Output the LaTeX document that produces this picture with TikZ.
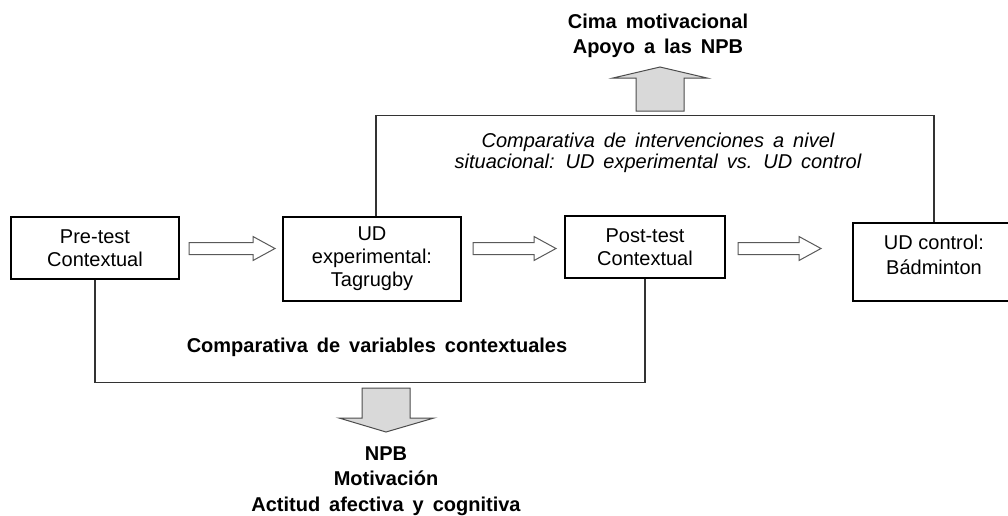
\documentclass[tikz,border=0pt]{standalone}
\usepackage{fontspec}
\setmainfont{Liberation Sans}
\usetikzlibrary{calc}

\newcommand\widewords{\spaceskip=0.45em\relax}

\tikzset{
  box/.style={draw=black, line width=.8pt, fill=white, align=center, inner sep=0pt, font=\fontsize{15}{17.25}\selectfont},
  boxtext/.style={align=center, inner sep=0pt, font=\fontsize{15}{18.75}\selectfont},
  link/.style={draw=black!80, line width=1pt},
  hollow/.style={draw=black!65, line width=.75pt, fill=white},
  block/.style={draw=black!70, line width=.75pt, fill=black!15},
  bold/.style={align=center, inner sep=0pt, font={\fontsize{15}{19}\selectfont\bfseries\widewords}},
  note/.style={align=center, inner sep=0pt, font={\fontsize{15}{16.1}\selectfont\itshape\widewords}}
}

\begin{document}
\begin{tikzpicture}[x=.75pt, y=-.75pt]
\useasboundingbox (0,0) rectangle (1008,515);
\clip (0,0) rectangle (1008,515);

\node[box, minimum width=168*.75pt, minimum height=62*.75pt] (pre) at (95,248) {Pre-test\\Contextual};
\node[box, minimum width=178*.75pt, minimum height=84*.75pt] (udexp) at (372,259) {UD\\experimental:\\Tagrugby};
\node[box, minimum width=160*.75pt, minimum height=62*.75pt] (post) at (645,247) {Post-test\\Contextual};
\node[box, minimum width=162*.75pt, minimum height=78*.75pt] (udcon) at (934,262) {};
\node[boxtext] (udcontxt) at (934,255) {UD control:\\Bádminton};

\foreach \xa/\xb in {189/275, 473/556, 738/821}
  \draw[hollow] (\xa,242.5) -- (\xb-22,242.5) -- (\xb-22,236.5) -- (\xb,248.5) -- (\xb-22,260.5) -- (\xb-22,254.5) -- (\xa,254.5) -- cycle;

\draw[link] ([xshift=3pt]udexp.north) -- ++(0,-101) -| (udcon.north);
\draw[link] (pre.south) -- ++(0,103) -| (post.south);

\draw[block] (636,111) -- (636,78) -- (613,78) -- (660,67) -- (707,78) -- (684,78) -- (684,111) -- cycle;
\draw[block] (362,388) -- (362,418) -- (339,418) -- (386,432) -- (434,418) -- (410,418) -- (410,388) -- cycle;

\node[bold] (cima) at (658,36) {Cima motivacional\\Apoyo a las NPB};
\node[note] (inter) at (658,153) {Comparativa de intervenciones a nivel\\situacional: UD experimental vs. UD control};
\node[bold] (varcon) at (377,347) {Comparativa de variables contextuales};
\node[bold] (npb) at (386,481) {NPB\\Motivación\\Actitud afectiva y cognitiva};

\end{tikzpicture}
\end{document}
